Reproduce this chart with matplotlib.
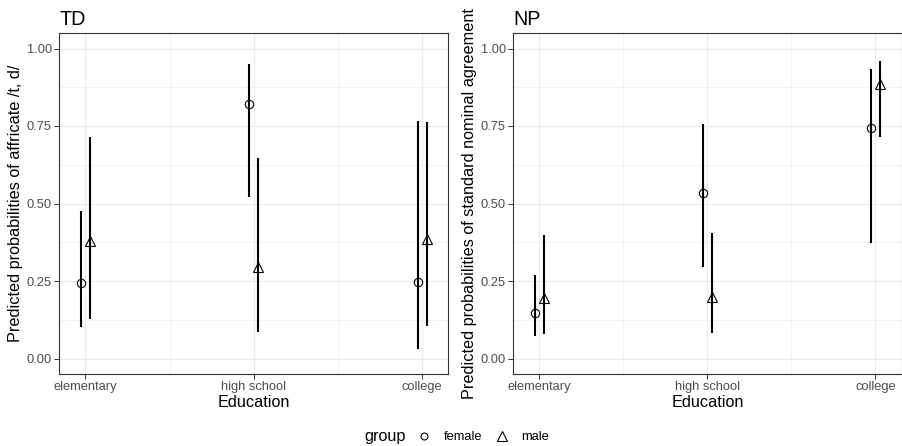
import matplotlib
matplotlib.use("Agg")
import matplotlib.pyplot as plt
from matplotlib.lines import Line2D
import numpy as np

plt.rcParams['font.family'] = ['Liberation Sans', 'DejaVu Sans']

categories = ["elementary", "high school", "college"]
groups = ["female", "male"]

# TD panel
td_female = [0.242, 0.820, 0.247]
td_female_lo = [0.102, 0.521, 0.031]
td_female_hi = [0.476, 0.950, 0.767]
td_male = [0.378, 0.295, 0.386]
td_male_lo = [0.129, 0.086, 0.105]
td_male_hi = [0.714, 0.648, 0.764]

# NP panel
np_female = [0.147, 0.533, 0.744]
np_female_lo = [0.073, 0.294, 0.373]
np_female_hi = [0.270, 0.757, 0.934]
np_male = [0.194, 0.200, 0.887]
np_male_lo = [0.078, 0.083, 0.716]
np_male_hi = [0.400, 0.404, 0.959]

W, H = 902, 446
fig = plt.figure(figsize=(W / 100, H / 100), dpi=100)

def px_axes(l, t, r, b):
    return fig.add_axes([l / W, 1 - b / H, (r - l) / W, (b - t) / H])

ax1 = px_axes(59.3, 33, 448.3, 374)
ax2 = px_axes(513.3, 33, 901.5, 374)

dodge = 0.026
tick_fs = 9.3
lab_fs = 11.7
title_fs = 14.2

def draw(ax, title, ylabel, f, flo, fhi, m, mlo, mhi):
    x = np.arange(1, len(categories) + 1)
    xf = x - dodge
    xm = x + dodge
    ax.vlines(xf, flo, fhi, color='black', lw=1.5, zorder=3)
    ax.vlines(xm, mlo, mhi, color='black', lw=1.5, zorder=3)
    ax.plot(xf, f, linestyle='none', marker='o', ms=6.0, mfc='none',
            mec='black', mew=0.8, zorder=4)
    ax.plot(xm, m, linestyle='none', marker='^', ms=7.0, mfc='none',
            mec='black', mew=0.8, zorder=4)
    ax.set_xlim(0.845, 3.155)
    ax.set_ylim(-0.05, 1.05)
    ax.set_xticks(x)
    ax.set_xticklabels(categories)
    ax.set_xticks([1.5, 2.5], minor=True)
    ax.set_yticks([0, 0.25, 0.5, 0.75, 1.0])
    ax.set_yticklabels(["0.00", "0.25", "0.50", "0.75", "1.00"])
    ax.set_yticks([0.125, 0.375, 0.625, 0.875], minor=True)
    ax.grid(which='major', color='#EBEBEB', lw=0.8, zorder=0)
    ax.grid(which='minor', color='#EBEBEB', lw=0.45, zorder=0)
    ax.set_axisbelow(True)
    ax.tick_params(which='major', length=3.3, width=0.7, color='#333333',
                   labelsize=tick_fs, labelcolor='#4D4D4D', pad=2)
    ax.tick_params(which='minor', length=0)
    for s in ax.spines.values():
        s.set_color('#333333')
        s.set_linewidth(0.8)
    ax.set_xlabel("Education", fontsize=lab_fs, labelpad=1)
    ax.set_ylabel(ylabel, fontsize=lab_fs, labelpad=3)
    ax.set_title(title, loc='left', fontsize=title_fs, pad=6)

draw(ax1, "TD", "Predicted probabilities of affricate /t, d/",
     td_female, td_female_lo, td_female_hi, td_male, td_male_lo, td_male_hi)
draw(ax2, "NP", "Predicted probabilities of standard nominal agreement",
     np_female, np_female_lo, np_female_hi, np_male, np_male_lo, np_male_hi)

fig.text(385.5 / W, 1 - 437 / H, "group", fontsize=lab_fs, ha='center', va='center')
handles = [
    Line2D([], [], linestyle='none', marker='o', ms=5.0, mfc='none', mec='black', mew=0.8),
    Line2D([], [], linestyle='none', marker='^', ms=7.0, mfc='none', mec='black', mew=0.8),
]
fig.legend(handles, groups, loc='center left', bbox_to_anchor=(418 / W, 1 - 437 / H),
           ncol=2, frameon=False, fontsize=tick_fs, handlelength=1.0,
           handletextpad=1.0, columnspacing=1.0, borderpad=0, borderaxespad=0)

fig.savefig("out.png", dpi=100)
